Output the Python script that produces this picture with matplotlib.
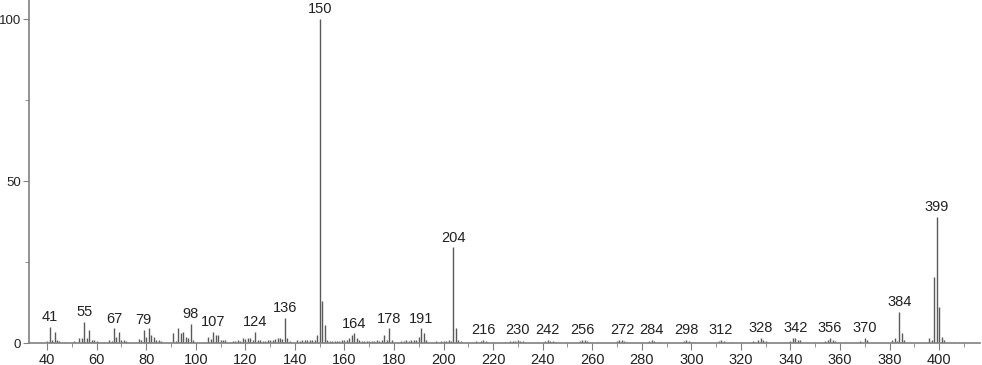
import matplotlib
matplotlib.use("Agg")
import matplotlib.pyplot as plt
from matplotlib.ticker import MultipleLocator

plt.rcParams["font.family"] = ["Liberation Sans", "DejaVu Sans"]

# m/z values and relative intensities (%)
mz = [40, 41, 42, 43, 44, 45, 47, 51, 53, 54, 55, 56, 57, 58, 59, 60, 63, 65, 66, 67,
      68, 69, 70, 71, 72, 77, 78, 79, 80, 81, 82, 83, 84, 85, 86, 91, 92, 93, 94, 95,
      96, 97, 98, 99, 105, 106, 107, 108, 109, 110, 111, 112, 115, 116, 117, 118, 119, 120, 121, 122,
      123, 124, 125, 126, 127, 128, 129, 130, 131, 132, 133, 134, 135, 136, 137, 138, 141, 142, 143, 144,
      145, 146, 147, 148, 149, 150, 151, 152, 153, 154, 155, 156, 157, 158, 159, 160, 161, 162, 163, 164,
      165, 166, 167, 168, 169, 170, 171, 172, 173, 174, 175, 176, 177, 178, 179, 183, 184, 185, 186, 187,
      188, 189, 190, 191, 192, 193, 197, 199, 200, 201, 202, 203, 204, 205, 206, 207, 213, 215, 216, 217,
      225, 227, 228, 229, 230, 231, 232, 241, 242, 243, 244, 245, 255, 256, 257, 258, 270, 271, 272, 273,
      283, 284, 285, 287, 297, 298, 299, 300, 311, 312, 313, 316, 325, 327, 328, 329, 330, 340, 341, 342,
      343, 344, 354, 355, 356, 357, 358, 368, 370, 371, 381, 382, 383, 384, 385, 386, 396, 397, 398, 399,
      400, 401, 402, 406]
intensity = [0.5, 5.0, 1.0, 3.5, 0.8, 0.6, 0.3, 0.5, 1.5, 1.5, 6.5, 1.5, 4.0, 1.0, 0.8, 0.5, 0.4, 0.8, 0.5, 4.5,
             1.8, 3.5, 1.0, 1.0, 0.5, 1.2, 0.8, 4.0, 2.0, 4.5, 2.5, 2.0, 1.0, 1.0, 0.5, 3.0, 0.6, 4.5, 3.0, 3.5,
             1.8, 1.5, 5.8, 1.0, 2.0, 1.2, 3.5, 2.5, 2.5, 1.0, 1.0, 0.8, 0.6, 0.6, 0.8, 0.6, 1.5, 1.2, 1.5, 1.5,
             1.0, 3.5, 1.0, 0.8, 0.6, 0.6, 0.8, 0.8, 1.0, 1.2, 1.5, 1.5, 1.2, 7.8, 1.5, 0.6, 0.8, 0.6, 0.8, 0.8,
             1.0, 1.0, 1.0, 0.8, 2.5, 100, 13.0, 5.5, 0.8, 0.6, 0.6, 0.5, 0.6, 0.6, 0.8, 0.8, 1.0, 1.5, 2.5, 3.0,
             1.5, 1.0, 0.6, 0.6, 0.5, 0.6, 0.5, 0.6, 0.8, 0.6, 0.8, 2.5, 0.8, 4.5, 1.0, 0.5, 0.6, 0.8, 0.6, 0.8,
             0.8, 1.0, 2.0, 4.5, 3.0, 1.0, 0.5, 0.5, 0.6, 0.6, 0.8, 0.6, 29.5, 4.5, 1.0, 0.6, 0.5, 0.5, 1.0, 0.5,
             0.4, 0.5, 0.5, 0.6, 1.0, 0.5, 0.6, 0.5, 1.0, 0.6, 0.6, 0.4, 0.6, 1.0, 0.8, 0.6, 0.6, 0.8, 1.0, 0.6,
             0.6, 1.0, 0.6, 0.4, 0.6, 1.0, 0.6, 0.4, 0.6, 1.0, 0.5, 0.4, 0.5, 0.8, 1.5, 1.0, 0.6, 0.6, 1.5, 1.5,
             1.0, 0.8, 0.5, 0.8, 1.5, 0.8, 0.6, 0.5, 1.5, 1.0, 1.0, 1.5, 0.5, 9.5, 3.0, 1.0, 1.5, 1.0, 20.5, 39.0,
             11.0, 2.0, 1.0, 0.3]

# peaks that get a m/z label
labeled = [41, 55, 67, 79, 98, 107, 124, 136, 150, 164, 178, 191, 204, 216, 230, 242,
           256, 272, 284, 298, 312, 328, 342, 356, 370, 384, 399]

fig = plt.figure(figsize=(9.82, 3.65), dpi=100)
ax = fig.add_axes([29 / 982, 22 / 365, 951 / 982, 343 / 365])

ax.vlines(mz, 0, intensity, color="#5a5a5a", linewidth=1.0)

peak = dict(zip(mz, intensity))
for m in labeled:
    ax.annotate(str(m), (m, peak[m]), xytext=(0, 2), textcoords="offset points",
                ha="center", va="bottom", fontsize=10.5, color="#222222")

ax.set_xlim(32.7, 416.5)
ax.set_ylim(0, 105.9)
ax.xaxis.set_major_locator(MultipleLocator(20))
ax.xaxis.set_minor_locator(MultipleLocator(10))
ax.yaxis.set_major_locator(MultipleLocator(50))
ax.yaxis.set_minor_locator(MultipleLocator(25))

for s in ["top", "right"]:
    ax.spines[s].set_visible(False)
for s in ["left", "bottom"]:
    ax.spines[s].set_color("#808080")
    ax.spines[s].set_linewidth(1.2)

ax.tick_params(which="major", length=5, color="#808080", labelsize=10.5, labelcolor="#222222", pad=2)
ax.tick_params(axis="y", which="major", length=4.5, pad=1, labelsize=9.5)
ax.tick_params(which="minor", length=3, color="#808080")

fig.savefig("out.png", dpi=100)
